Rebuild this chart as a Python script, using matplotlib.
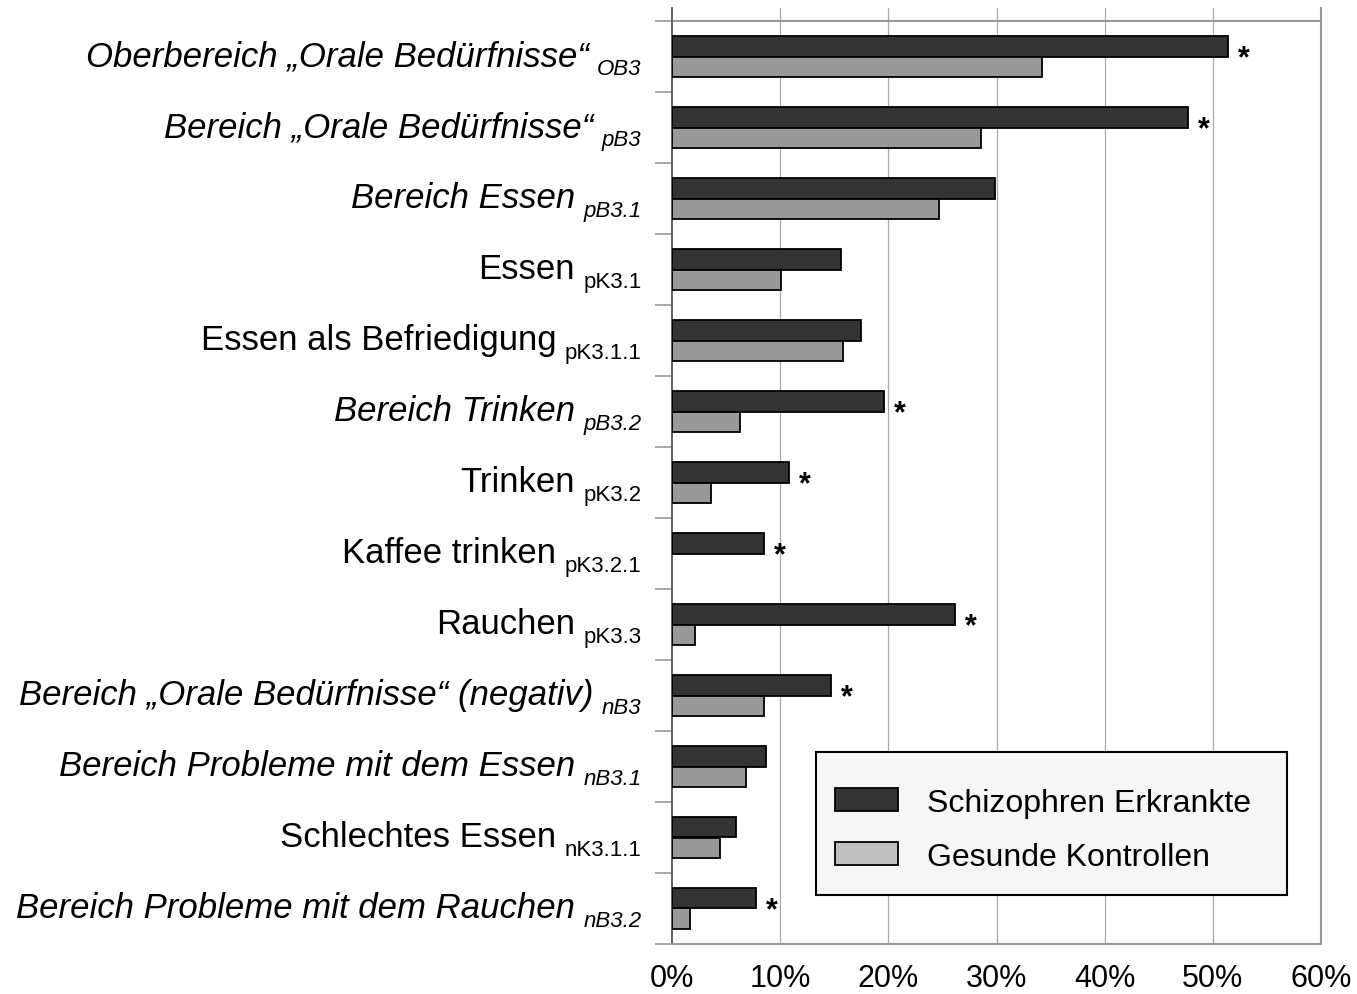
import matplotlib.pyplot as plt
from matplotlib.patches import Patch, Rectangle
from matplotlib.transforms import offset_copy

plt.rcParams['font.family'] = ['Liberation Sans', 'DejaVu Sans']

# Beschriftungen (Haupttext, Index, kursiv?)
labels = ['Oberbereich \u201eOrale Bed\u00fcrfnisse\u201c', 'Bereich \u201eOrale Bed\u00fcrfnisse\u201c',
          'Bereich Essen', 'Essen', 'Essen als Befriedigung', 'Bereich Trinken', 'Trinken',
          'Kaffee trinken', 'Rauchen', 'Bereich \u201eOrale Bed\u00fcrfnisse\u201c (negativ)',
          'Bereich Probleme mit dem Essen', 'Schlechtes Essen', 'Bereich Probleme mit dem Rauchen']
subs = ['OB3', 'pB3', 'pB3.1', 'pK3.1', 'pK3.1.1', 'pB3.2', 'pK3.2', 'pK3.2.1', 'pK3.3',
        'nB3', 'nB3.1', 'nK3.1.1', 'nB3.2']
italic = [True, True, True, False, False, True, False, False, False, True, True, False, True]

# Werte in %
schizo = [51.4, 47.7, 29.9, 15.6, 17.5, 19.6, 10.8, 8.5, 26.2, 14.7, 8.7, 5.9, 7.8]
gesund = [34.2, 28.6, 24.7, 10.1, 15.8, 6.3, 3.6, 0.0, 2.1, 8.5, 6.8, 4.4, 1.7]
signif = [True, True, False, False, False, True, True, True, True, True, False, False, True]

xticks = [0, 10, 20, 30, 40, 50, 60]

W, H = 1357, 995
fig = plt.figure(figsize=(W / 100, H / 100), dpi=100)
ax = fig.add_axes([672 / W, 50 / H, 649 / W, 936 / H])

n = len(labels)
pos = list(range(n))
h = 0.29
ax.barh([p - h / 2 for p in pos], schizo, height=h, color='#333333', edgecolor='black', linewidth=1.3, zorder=3)
ax.barh([p + h / 2 for p in pos], gesund, height=h, color='#999999',
        edgecolor=['black' if v > 0 else 'none' for v in gesund], linewidth=1.3, zorder=3)

ax.set_xlim(0, 60)
ax.set_ylim(n - 0.5, -0.5 - 13 / 71)

# Gitter und Rahmen
for x in xticks[1:]:
    ax.axvline(x, color='#aaaaaa', lw=0.9, zorder=1)
ax.axhline(-0.5, color='#999999', lw=1.5, zorder=2)
ax.spines['top'].set_visible(False)
ax.spines['right'].set_color('#999999')
ax.spines['right'].set_linewidth(1.5)
ax.spines['bottom'].set_color('#999999')
ax.spines['bottom'].set_linewidth(1.5)
ax.spines['left'].set_color('#555555')
ax.spines['left'].set_linewidth(1.3)

ax.set_xticks(xticks)
ax.set_xticklabels(['%d%%' % v for v in xticks], fontsize=22)
ax.tick_params(axis='x', length=0, pad=14)
ax.set_yticks([p - 0.5 for p in pos] + [n - 0.5])
ax.set_yticklabels([])
ax.tick_params(axis='y', length=12, color='#999999', width=1.2)

# Signifikanzsterne
for p, v, s in zip(pos, schizo, signif):
    if s:
        ax.annotate('*', (v, p + 0.03), xytext=(7, 0), textcoords='offset points',
                    ha='left', va='center', fontsize=22, fontweight='bold', zorder=4)

# Beschriftungen mit Index
fig.canvas.draw()
r = fig.canvas.get_renderer()
tr = ax.get_yaxis_transform()
for p, lab, sub, it in zip(pos, labels, subs, italic):
    style = 'italic' if it else 'normal'
    t_sub = ax.text(0, p + 0.24, sub, fontsize=16, style=style, ha='right', va='baseline',
                    transform=offset_copy(tr, fig=fig, x=-22, y=0, units='points'))
    w = t_sub.get_window_extent(renderer=r).width * 72 / fig.dpi
    ax.text(0, p + 0.12, lab, fontsize=25, style=style, ha='right', va='baseline',
            transform=offset_copy(tr, fig=fig, x=-22 - w - 6, y=0, units='points'))

# Legende mit eigenem Rahmen
fig.patches.append(Rectangle((816 / W, 1 - 896 / H), 471 / W, 143 / H, transform=fig.transFigure,
                             facecolor='#f6f6f6', edgecolor='black', lw=1.5, zorder=5))
handles = [Patch(facecolor='#333333', edgecolor='black', lw=1.3),
           Patch(facecolor='#c0c0c0', edgecolor='black', lw=1.3)]
leg = fig.legend(handles, ['Schizophren Erkrankte', 'Gesunde Kontrollen'], fontsize=23,
                 loc='upper left', bbox_to_anchor=(835 / W, 1 - 789 / H), frameon=False,
                 handlelength=1.97, handleheight=0.72, handletextpad=0.9, labelspacing=0.75,
                 borderpad=0, borderaxespad=0)
leg.set_zorder(6)

fig.savefig('out.png', dpi=100)
